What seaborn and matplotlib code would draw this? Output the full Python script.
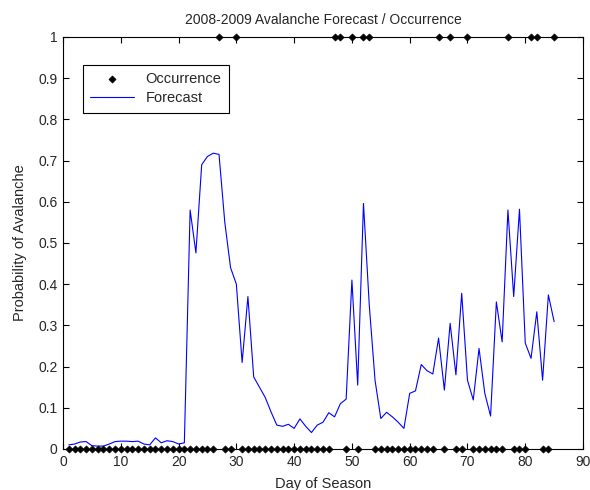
import matplotlib
matplotlib.use("Agg")
import matplotlib.pyplot as plt
import seaborn as sns
import numpy as np

# day of season 1..85
days = list(range(1, 86))

# forecast probability
forecast = [
    0.010, 0.012, 0.017, 0.018, 0.008, 0.007, 0.007, 0.012, 0.018, 0.019,   # 1-10
    0.019, 0.018, 0.019, 0.012, 0.010, 0.027, 0.015, 0.020, 0.018, 0.012,   # 11-20
    0.015, 0.580, 0.476, 0.690, 0.710, 0.718, 0.715, 0.550, 0.440, 0.400,   # 21-30
    0.210, 0.370, 0.175, 0.150, 0.125, 0.090, 0.058, 0.055, 0.060, 0.050,   # 31-40
    0.073, 0.055, 0.040, 0.058, 0.065, 0.088, 0.078, 0.110, 0.121, 0.410,   # 41-50
    0.155, 0.596, 0.350, 0.167, 0.074, 0.089, 0.078, 0.065, 0.050, 0.135,   # 51-60
    0.141, 0.205, 0.190, 0.182, 0.269, 0.143, 0.305, 0.180, 0.378, 0.167,   # 61-70
    0.119, 0.244, 0.135, 0.080, 0.357, 0.260, 0.580, 0.370, 0.582, 0.257,   # 71-80
    0.220, 0.333, 0.167, 0.374, 0.309,                                      # 81-85
]

# days with an avalanche observed
occurrence_days = [27, 30, 47, 48, 50, 52, 53, 65, 67, 70, 77, 81, 82, 85]
occurrence = [1 if d in occurrence_days else 0 for d in days]

sns.set_theme(style="white")
plt.rcParams['font.family'] = ['Liberation Sans', 'DejaVu Sans']
plt.rcParams['xtick.direction'] = 'in'
plt.rcParams['ytick.direction'] = 'in'

fig = plt.figure(figsize=(5.9, 4.9), dpi=100)
ax = fig.add_axes([0.1068, 0.0837, 0.8814, 0.8408])

sns.scatterplot(x=days, y=occurrence, marker='D', color='black', s=13,
                edgecolor='black', linewidth=0.5, label='Occurrence',
                ax=ax, clip_on=False, zorder=3)
sns.lineplot(x=days, y=forecast, color='blue', linewidth=0.8,
             label='Forecast', ax=ax)

ax.set_xlim(0, 90)
ax.set_ylim(0, 1)
ax.set_xticks(np.arange(0, 91, 10))
ax.set_yticks(np.arange(0, 1.01, 0.1))
ax.set_yticklabels(['0', '0.1', '0.2', '0.3', '0.4', '0.5', '0.6', '0.7', '0.8', '0.9', '1'])
ax.tick_params(axis='both', which='both', top=True, right=True, bottom=True, left=True,
               length=4, width=0.8, color='black', labelsize=10, pad=4)
for sp in ax.spines.values():
    sp.set_color('black')
    sp.set_linewidth(0.8)

ax.set_title('2008-2009 Avalanche Forecast / Occurrence', fontsize=10, pad=9)
ax.set_xlabel('Day of Season', fontsize=10.5, labelpad=6)
ax.set_ylabel('Probability of Avalanche', fontsize=10.5, labelpad=8)

leg = ax.legend(loc='upper left', bbox_to_anchor=(0.038, 0.932), borderaxespad=0,
                fancybox=False, edgecolor='black', framealpha=1, fontsize=10.5,
                handlelength=3.0, handletextpad=0.8, borderpad=0.5, labelspacing=0.35)
leg.get_frame().set_linewidth(0.8)

fig.savefig('out.png', dpi=100)
